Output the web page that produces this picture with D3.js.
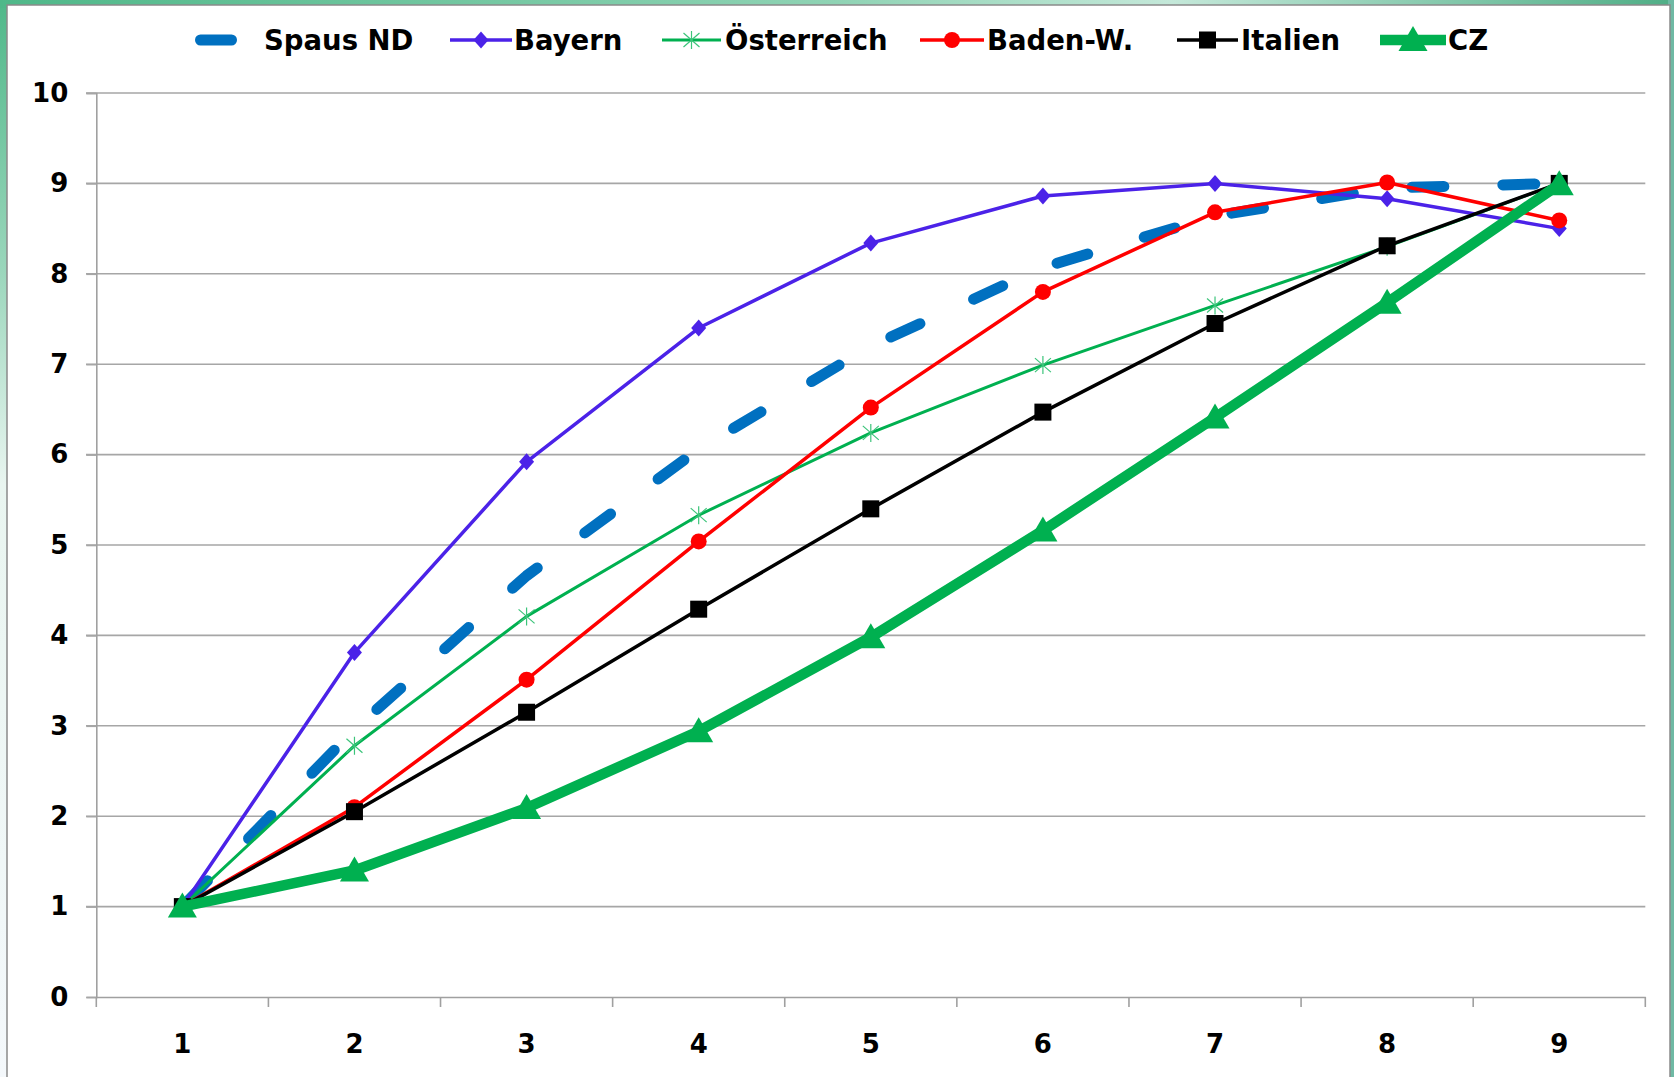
<!DOCTYPE html>
<html><head><meta charset="utf-8">
<script src="https://cdn.jsdelivr.net/npm/d3@7"></script>
<style>
html,body{margin:0;padding:0;overflow:hidden;}
body{width:1674px;height:1077px;background:linear-gradient(180deg,#4fb889 0%,#9ad6bb 25%,#e9f5f0 45%,#f4f8fb 100%);}
</style></head><body>
<svg id="chart" width="1674" height="1077"></svg>
<script>
const categories = [1,2,3,4,5,6,7,8,9];
const yTicks = [0,1,2,3,4,5,6,7,8,9,10];
const seriesNames = ["Spaus ND","Bayern","Österreich","Baden-W.","Italien","CZ"];
const spausND    = [1, 2.96, 4.66, 6.06, 7.20, 8.07, 8.64, 8.95, 9.00];
const bayern     = [1, 3.81, 5.92, 7.40, 8.34, 8.86, 9.00, 8.83, 8.50];
const oesterreich= [1, 2.78, 4.21, 5.33, 6.24, 6.99, 7.65, 8.30, 9.00];
const badenW     = [1, 2.10, 3.51, 5.04, 6.52, 7.80, 8.68, 9.01, 8.59];
const italien    = [1, 2.05, 3.15, 4.29, 5.40, 6.47, 7.45, 8.31, 9.00];
const cz         = [1, 1.40, 2.09, 2.94, 3.98, 5.16, 6.41, 7.68, 8.99];

const styles = [
  {color:"#0070C0", width:11, dash:"32,59", marker:"none"},
  {color:"#4B22E8", width:3.5, marker:"diamond"},
  {color:"#00B050", width:3, marker:"asterisk"},
  {color:"#FF0000", width:3.5, marker:"circle"},
  {color:"#000000", width:3.5, marker:"square"},
  {color:"#00B050", width:10.5, marker:"triangle"}
];
const values = [spausND, bayern, oesterreich, badenW, italien, cz];

const svg = d3.select("#chart");
const FONT = "'DejaVu Sans', Verdana, sans-serif";

// top green band
const defs = svg.append("defs");
const grad = defs.append("linearGradient").attr("id","band").attr("x1","0").attr("x2","1");
grad.append("stop").attr("offset","0").attr("stop-color","#4fb889");
grad.append("stop").attr("offset","0.5").attr("stop-color","#8fd3b4");
grad.append("stop").attr("offset","0.7").attr("stop-color","#c4e8d9");
grad.append("stop").attr("offset","1").attr("stop-color","#4fae86");
svg.append("rect").attr("x",0).attr("y",0).attr("width",1674).attr("height",8).attr("fill","url(#band)");
svg.append("rect").attr("x",1668).attr("y",0).attr("width",6).attr("height",1077).attr("fill","#6fb9a4");

// white panel
svg.append("rect").attr("x",7).attr("y",5).attr("width",1663).attr("height",1080)
  .attr("fill","#ffffff").attr("stroke","#8a8a8a").attr("stroke-width",1.5);

const plotL = 96.3, plotR = 1645.3, plotT = 93, plotB = 997;
const x = d3.scaleBand().domain(categories).range([plotL,plotR]).padding(0);
const xc = d => x(d) + x.bandwidth()/2;
const y = d3.scaleLinear().domain([0,10]).range([plotB,plotT]);

// gridlines
svg.append("g").selectAll("line").data(yTicks.filter(t=>t>0)).join("line")
  .attr("x1",86).attr("x2",plotR).attr("y1",d=>y(d)).attr("y2",d=>y(d))
  .attr("stroke","#a6a6a6").attr("stroke-width",1.6);

// y axis
const yAxis = svg.append("g").attr("transform",`translate(${plotL},0)`)
  .call(d3.axisLeft(y).tickValues(yTicks).tickSize(10).tickPadding(18).tickFormat(d3.format("d")));
yAxis.select(".domain").attr("stroke","#a0a0a0").attr("stroke-width",1.6);
yAxis.selectAll(".tick line").attr("stroke","#a6a6a6").attr("stroke-width",1.6);
yAxis.selectAll(".tick text").attr("font-family",FONT).attr("font-weight","bold")
  .attr("font-size",26).attr("fill","#000");

// x axis
const xAxis = svg.append("g").attr("transform",`translate(0,${plotB})`)
  .call(d3.axisBottom(x).tickSize(0).tickPadding(38));
xAxis.select(".domain").attr("stroke","#a0a0a0").attr("stroke-width",1.6);
xAxis.selectAll(".tick text").attr("font-family",FONT).attr("font-weight","bold")
  .attr("font-size",26).attr("fill","#000");
const bounds = categories.map(c=>x(c)).concat([plotR]);
svg.append("g").selectAll("line").data(bounds).join("line")
  .attr("x1",d=>d).attr("x2",d=>d).attr("y1",plotB).attr("y2",plotB+10)
  .attr("stroke","#a0a0a0").attr("stroke-width",1.6);

function drawMarker(g, type, color, cx, cy){
  if(type==="diamond"){
    g.append("path").attr("d",`M${cx},${cy-8.5}L${cx+7.5},${cy}L${cx},${cy+8.5}L${cx-7.5},${cy}Z`).attr("fill",color);
  } else if(type==="circle"){
    g.append("circle").attr("cx",cx).attr("cy",cy).attr("r",8).attr("fill",color);
  } else if(type==="square"){
    g.append("rect").attr("x",cx-8.5).attr("y",cy-8.5).attr("width",17).attr("height",17).attr("fill",color);
  } else if(type==="triangle"){
    g.append("path").attr("d",`M${cx},${cy-14}L${cx+14.5},${cy+11}L${cx-14.5},${cy+11}Z`).attr("fill",color);
  } else if(type==="asterisk"){
    const p = `M${cx},${cy-9}L${cx},${cy+9}M${cx-8},${cy-7}L${cx+8},${cy+7}M${cx-8},${cy+7}L${cx+8},${cy-7}`;
    g.append("path").attr("d",p).attr("stroke","#3cc47a").attr("stroke-width",1.2).attr("fill","none");
  }
}

const line = d3.line().x((d,i)=>xc(categories[i])).y(d=>y(d));
values.forEach((vals,si)=>{
  const st = styles[si];
  const g = svg.append("g");
  g.append("path").datum(vals).attr("d",line).attr("fill","none")
    .attr("stroke",st.color).attr("stroke-width",st.width)
    .attr("stroke-linecap",st.dash?"round":"butt").attr("stroke-linejoin","round")
    .attr("stroke-dasharray",st.dash||null).attr("stroke-dashoffset",st.dash?-4:null);
  vals.forEach((v,i)=>drawMarker(g, st.marker, st.color, xc(categories[i]), y(v)));
});

// legend
const legendItems = [
  {lx1:195, lx2:237, tx:264},
  {lx1:450, lx2:512, tx:514},
  {lx1:662, lx2:721, tx:725},
  {lx1:920, lx2:984, tx:987},
  {lx1:1177,lx2:1238,tx:1241},
  {lx1:1380,lx2:1446,tx:1448}
];
const ly = 40;
seriesNames.forEach((name,si)=>{
  const st = styles[si], it = legendItems[si];
  const g = svg.append("g");
  if(si===0){
    g.append("line").attr("x1",it.lx1+5.5).attr("x2",it.lx2-5.5).attr("y1",ly).attr("y2",ly)
      .attr("stroke",st.color).attr("stroke-width",st.width).attr("stroke-linecap","round");
  } else {
    g.append("line").attr("x1",it.lx1).attr("x2",it.lx2).attr("y1",ly).attr("y2",ly)
      .attr("stroke",st.color).attr("stroke-width",st.width);
    drawMarker(g, st.marker, st.color, (it.lx1+it.lx2)/2, ly);
  }
  g.append("text").attr("x",it.tx).attr("y",ly+10).text(name)
    .attr("font-family",FONT).attr("font-weight","bold").attr("font-size",27.5).attr("fill","#000");
});
</script>
</body></html>
